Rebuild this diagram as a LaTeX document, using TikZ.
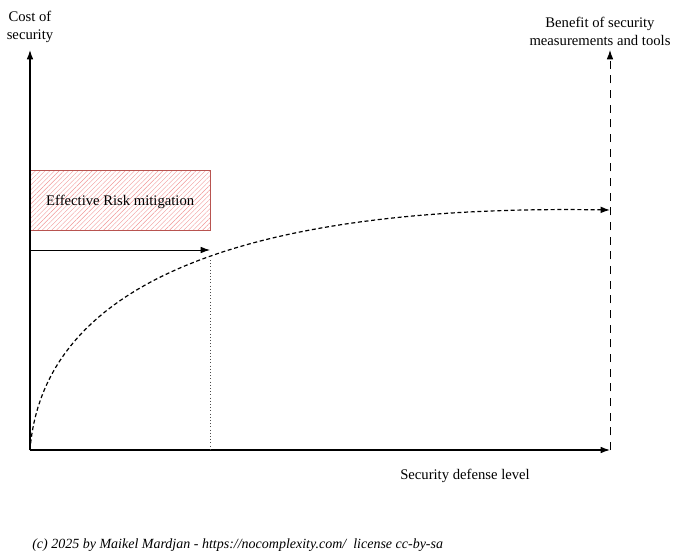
\documentclass[tikz,border=0pt]{standalone}
\usepackage{fontspec}
\setmainfont{Liberation Serif}
\usepackage{tikz}
\usetikzlibrary{positioning,arrows,arrows.meta,patterns.meta}
\definecolor{riskline}{RGB}{184,84,80}
\definecolor{riskfill}{RGB}{240,150,150}
\tikzstyle{axis} = [draw, line width=0.9pt, black, -{Latex[length=7pt,width=5pt]}]
\tikzstyle{benefit} = [draw, line width=0.75pt, black, dash pattern=on 6pt off 5pt, -{Latex[length=7pt,width=5pt]}]
\tikzstyle{line} = [draw, line width=0.75pt, black, -{Latex[length=7pt,width=5pt]}]
\tikzstyle{curve} = [draw, line width=0.9pt, black, dash pattern=on 3pt off 2pt, -{Latex[length=7pt,width=5pt]}]
\tikzstyle{guide} = [draw, black!70, thin, dotted]
\tikzstyle{label} = [align=center, font=\fontsize{11}{13.5}\selectfont]
\tikzstyle{block} = [rectangle, draw=riskline, line width=0.75pt, pattern={Lines[angle=45,distance=2.5pt,line width=0.3pt]}, pattern color=riskfill, minimum width=135pt, minimum height=45pt, inner sep=0pt, text depth=0pt, font=\fontsize{11}{13}\selectfont]

\begin{document}
\begin{tikzpicture}[x=0.75pt, y=-0.75pt]
  	\useasboundingbox (0,0) rectangle (700,560);
  	%% axes
  	\coordinate (O) at (30,450);
  	\coordinate (Ytop) at (30,50);
  	\coordinate (Xend) at (610,450);
  	\coordinate (Btop) at (610,50);
  	\coordinate (Bend) at (610,210);
  	\coordinate (Mid) at (210,260);
  	\coordinate (Foot) at (210,450);
  	\coordinate (Rstart) at (30,250);
  	\coordinate (Rend) at (210,250);
  	%% risk block
  	\node[block, anchor=north west] (risk) at (30,170) {Effective Risk mitigation};
  	%% labels
  	\node[label] (cost) at (30,27) {Cost of\\security};
  	\node[label] (benefit) at (600,31) {Benefit of security\\measurements and tools};
  	\node[label] (level) at (465,476) {Security defense level};
  	\node[label, font=\fontsize{10.5}{12}\selectfont\itshape, anchor=west, inner sep=0pt] (copy) at (32,545) {(c) 2025 by Maikel Mardjan - https://nocomplexity.com/\ \ license cc-by-sa};
  	%% edges
  	\path[axis](O) -- (Ytop);
  	\path[axis](O) -- (Xend);
  	\path[benefit](Xend) -- (Btop);
  	\path[line](Rstart) -- (Rend);
  	\path[guide](Mid) -- (Foot);
  	\path[curve](O) .. controls (45,260) and (300,205) .. (Bend);
\end{tikzpicture}
\end{document}
